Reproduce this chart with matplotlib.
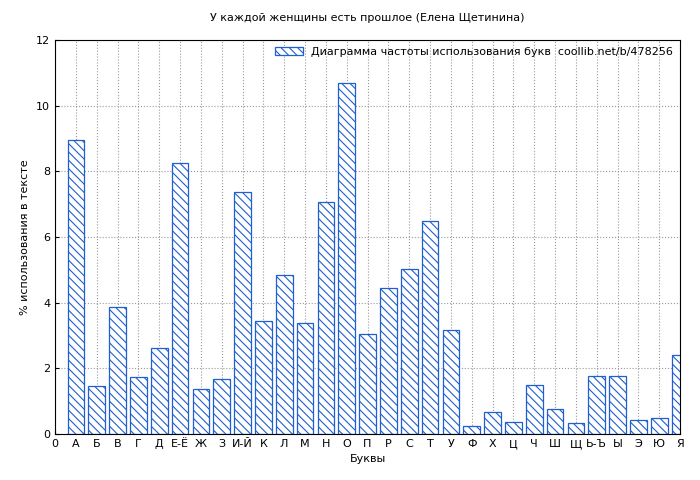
import matplotlib
matplotlib.use('Agg')
import matplotlib.pyplot as plt

letters = ['А', 'Б', 'В', 'Г', 'Д', 'Е-Ё', 'Ж', 'З', 'И-Й', 'К', 'Л', 'М', 'Н', 'О', 'П',
           'Р', 'С', 'Т', 'У', 'Ф', 'Х', 'Ц', 'Ч', 'Ш', 'Щ', 'Ь-Ъ', 'Ы', 'Э', 'Ю', 'Я']
values = [8.95, 1.45, 3.88, 1.73, 2.63, 8.25, 1.38, 1.68, 7.38, 3.45, 4.85, 3.38, 7.08, 10.7, 3.05,
          4.45, 5.03, 6.5, 3.18, 0.23, 0.68, 0.38, 1.5, 0.75, 0.32, 1.78, 1.78, 0.42, 0.5, 2.42]

plt.rcParams['font.size'] = 8
plt.rcParams['hatch.color'] = '#1f5fd0'
plt.rcParams['hatch.linewidth'] = 0.8

fig = plt.figure(figsize=(7, 4.8), dpi=100)
ax = fig.add_axes([55 / 700, 46 / 480, 625 / 700, 394 / 480])

xs = list(range(1, len(letters) + 1))
ax.bar(xs, values, width=0.8, facecolor='white', edgecolor='#1f5fd0', hatch='\\\\\\\\',
       linewidth=0.9, zorder=2, label='Диаграмма частоты использования букв  coollib.net/b/478256')

ax.set_xlim(0, len(letters))
ax.set_ylim(0, 12)
ax.set_xticks([0] + xs)
ax.set_xticklabels(['0'] + letters)
ax.set_yticks(range(0, 13, 2))
ax.grid(True, color='#999999', linestyle=':', linewidth=0.8, zorder=0)
ax.tick_params(direction='in', length=3)

ax.set_title('У каждой женщины есть прошлое (Елена Щетинина)', fontsize=8, pad=14)
ax.set_xlabel('Буквы')
ax.set_ylabel('% использования в тексте')

leg = ax.legend(loc='upper right', frameon=False, fontsize=8, handlelength=2.5,
                borderaxespad=0.2)

fig.savefig('out.png', dpi=100)
